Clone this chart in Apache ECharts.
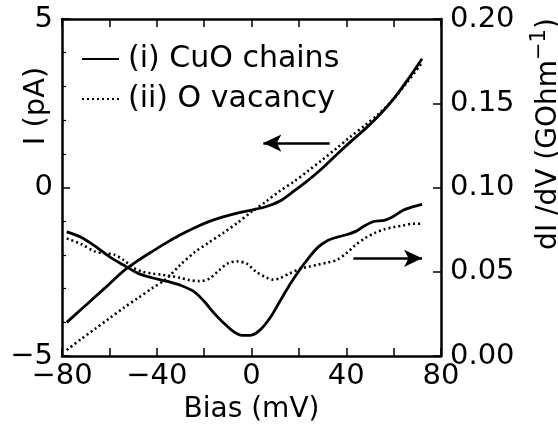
<!DOCTYPE html>
<html>
<head>
<meta charset="utf-8">
<script src="https://cdn.jsdelivr.net/npm/echarts@6/dist/echarts.min.js"></script>
<style>
  html, body { margin: 0; padding: 0; background: #fff; }
  #chart { width: 558px; height: 429px; }
</style>
</head>
<body>
<div id="chart"></div>
<script>
// I-V curves (left axis, pA)
const ivBias = [-78, -72, -66, -60, -54, -48, -42, -36, -30, -24, -18, -12, -6, 0, 6, 12, 18, 24, 30, 36, 42, 48, 54, 60, 66, 72];
const ivChains = [-4.0, -3.62, -3.24, -2.86, -2.47, -2.17, -1.90, -1.64, -1.40, -1.19, -1.01, -0.87, -0.76, -0.67, -0.57, -0.40, -0.10, 0.22, 0.58, 0.98, 1.37, 1.74, 2.15, 2.63, 3.2, 3.82];
const ivVacancy = [-4.82, -4.5, -4.19, -3.88, -3.57, -3.28, -2.99, -2.71, -2.29, -1.92, -1.63, -1.35, -1.05, -0.72, -0.42, -0.10, 0.18, 0.5, 0.83, 1.17, 1.52, 1.85, 2.2, 2.63, 3.15, 3.7];

// dI/dV curves (right axis, GOhm^-1)
const gBiasChains = [-78, -72, -66, -60, -54, -48, -42, -36, -30, -24, -20, -16, -12, -8, -4, 0, 4, 8, 12, 16, 20, 24, 28, 32, 36, 40, 44, 48, 52, 56, 60, 64, 68, 72];
const gChains = [0.0737, 0.0705, 0.0652, 0.0590, 0.0540, 0.0492, 0.0465, 0.0445, 0.0420, 0.0380, 0.0325, 0.0258, 0.0200, 0.0150, 0.0123, 0.0125, 0.0160, 0.0230, 0.0325, 0.0420, 0.0505, 0.0580, 0.0645, 0.0685, 0.0705, 0.0720, 0.0740, 0.0775, 0.0800, 0.0805, 0.0830, 0.0865, 0.0885, 0.0900];
const gBiasVacancy = [-78, -72, -66, -62, -58, -54, -50, -46, -42, -38, -34, -30, -26, -22, -18, -14, -10, -6, -2, 2, 6, 9, 12, 16, 20, 24, 28, 32, 36, 40, 44, 48, 52, 56, 60, 64, 68, 72];
const gVacancy = [0.0698, 0.0665, 0.0620, 0.0610, 0.0602, 0.0570, 0.0525, 0.0500, 0.0490, 0.0483, 0.0475, 0.0464, 0.0450, 0.0445, 0.0458, 0.0505, 0.0550, 0.0562, 0.0548, 0.0500, 0.0468, 0.0454, 0.0462, 0.0490, 0.0515, 0.0530, 0.0542, 0.0555, 0.0570, 0.0610, 0.0660, 0.0700, 0.0730, 0.0752, 0.0765, 0.0775, 0.0785, 0.0785];

// arrows pointing at the axis each curve pair belongs to
const leftArrow = [[33, 1.32], [5, 1.32]];
const rightArrow = [[43, 0.058], [72, 0.058]];

const NAME_I = '(i) CuO chains';
const NAME_II = '(ii) O vacancy';
const FONT = 'DejaVu Sans';

const pairs = (xs, ys) => xs.map((x, i) => [x, ys[i]]);
const minus = v => String(v).replace('-', '\u2212');

const solid = { color: '#000', width: 2.8, type: 'solid' };
const dotted = { color: '#000', width: 2.6, type: [2, 3] };

function tickAxis(extra) {
  return Object.assign({
    type: 'value',
    axisLine: { show: true, onZero: false, lineStyle: { color: '#000', width: 2.5 } },
    axisTick: { show: true, inside: true, length: 8, lineStyle: { color: '#000', width: 1.5 } },
    splitLine: { show: false },
    axisLabel: { color: '#000', fontSize: 29, fontFamily: FONT },
  }, extra);
}

const chart = echarts.init(document.getElementById('chart'));
chart.setOption({
  animation: false,
  backgroundColor: '#fff',
  textStyle: { fontFamily: FONT, color: '#000' },
  grid: { left: 62, right: 117, top: 19, bottom: 68 },
  legend: {
    data: [NAME_I, NAME_II],
    orient: 'vertical',
    left: 76, top: 37,
    itemWidth: 37, itemHeight: 14, itemGap: 6,
    itemStyle: { opacity: 0 },
    textStyle: { fontSize: 30, color: '#000', fontFamily: FONT, lineHeight: 34, padding: [0, 0, 0, 4] },
  },
  xAxis: [
    tickAxis({
      position: 'bottom', min: -80, max: 80, interval: 40,
      minorTick: { show: true, splitNumber: 2, length: 8, lineStyle: { color: '#000', width: 1.5 } },
      axisLabel: { color: '#000', fontSize: 29, fontFamily: FONT, margin: 6, formatter: minus },
      name: 'Bias (mV)', nameLocation: 'middle', nameGap: 38,
      nameTextStyle: { fontSize: 28, color: '#000', fontFamily: FONT },
    }),
    tickAxis({
      position: 'top', min: -80, max: 80, interval: 40,
      minorTick: { show: true, splitNumber: 2, length: 8, lineStyle: { color: '#000', width: 1.5 } },
      axisLabel: { show: false },
    }),
  ],
  yAxis: [
    tickAxis({
      position: 'left', min: -5, max: 5, interval: 5,
      minorTick: { show: true, splitNumber: 5, length: 4, lineStyle: { color: '#000', width: 1.2 } },
      axisLabel: { color: '#000', fontSize: 29, fontFamily: FONT, margin: 9, formatter: minus },
    }),
    tickAxis({
      position: 'right', min: 0, max: 0.2, interval: 0.05,
      axisLabel: { color: '#000', fontSize: 29, fontFamily: FONT, margin: 9, formatter: v => v.toFixed(2) },
    }),
  ],
  graphic: [
    {
      type: 'text', x: 36, y: 106, rotation: Math.PI / 2,
      style: { text: 'I (pA)', fontSize: 29, fontFamily: FONT, fill: '#000', align: 'center', verticalAlign: 'middle' },
    },
    {
      type: 'text', x: 546, y: 134, rotation: Math.PI / 2,
      style: {
        text: '{a|dI /dV (GOhm}{s|\u22121}{a|)}',
        align: 'center', verticalAlign: 'middle',
        rich: {
          a: { fontSize: 28, fontFamily: FONT, fill: '#000', verticalAlign: 'bottom', lineHeight: 34 },
          s: { fontSize: 21, fontFamily: FONT, fill: '#000', verticalAlign: 'top', lineHeight: 34 },
        },
      },
    },
  ],
  series: [
    {
      name: NAME_I, type: 'line', xAxisIndex: 0, yAxisIndex: 0,
      data: pairs(ivBias, ivChains), showSymbol: false, symbol: 'none', smooth: 0.3,
      lineStyle: solid, itemStyle: { color: '#000' },
      markLine: {
        silent: true, symbol: ['none', 'arrow'], symbolSize: [13, 18],
        label: { show: false }, lineStyle: { color: '#000', width: 2.5, type: 'solid' },
        data: [[{ coord: leftArrow[0] }, { coord: leftArrow[1] }]],
      },
    },
    {
      name: NAME_II, type: 'line', xAxisIndex: 0, yAxisIndex: 0,
      data: pairs(ivBias, ivVacancy), showSymbol: false, symbol: 'none', smooth: 0.3,
      lineStyle: dotted, itemStyle: { color: '#000' },
    },
    {
      name: NAME_I, type: 'line', xAxisIndex: 0, yAxisIndex: 1,
      data: pairs(gBiasChains, gChains), showSymbol: false, symbol: 'none', smooth: 0.3,
      lineStyle: solid, itemStyle: { color: '#000' },
      markLine: {
        silent: true, symbol: ['none', 'arrow'], symbolSize: [13, 18],
        label: { show: false }, lineStyle: { color: '#000', width: 2.5, type: 'solid' },
        data: [[{ coord: rightArrow[0] }, { coord: rightArrow[1] }]],
      },
    },
    {
      name: NAME_II, type: 'line', xAxisIndex: 0, yAxisIndex: 1,
      data: pairs(gBiasVacancy, gVacancy), showSymbol: false, symbol: 'none', smooth: 0.3,
      lineStyle: dotted, itemStyle: { color: '#000' },
    },
  ],
});
</script>
</body>
</html>
